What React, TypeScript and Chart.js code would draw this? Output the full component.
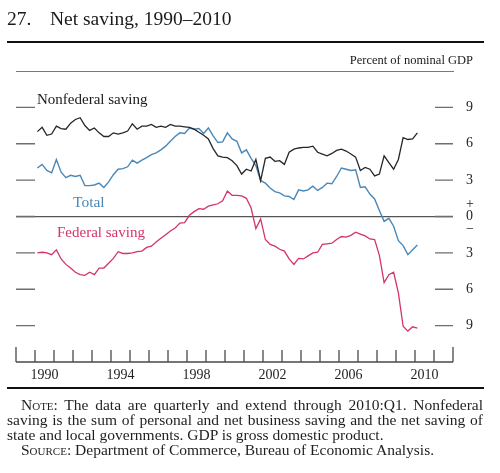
import React, { useEffect, useRef } from "react";
import { Chart, registerables } from "chart.js";

Chart.register(...registerables);

// ---- Data (percent of nominal GDP), quarterly 1990:Q1 – 2010:Q1 ----
const firstYear = 1990;
const nonfederalSaving = [
  7.0, 7.35, 6.7, 6.8, 7.45, 7.25, 7.2, 7.7, 8.0, 8.15,
  7.5, 7.1, 7.3, 6.9, 6.6, 6.6, 6.9, 6.8, 6.9, 7.05,
  7.65, 7.2, 7.45, 7.45, 7.6, 7.35, 7.45, 7.35, 7.6, 7.45,
  7.45, 7.4, 7.35, 7.2, 6.95, 6.7, 6.4, 5.6, 5.0, 4.9,
  4.85, 4.6, 4.2, 3.5, 3.9, 3.75, 4.7, 2.95, 4.8, 4.9,
  4.55, 4.6, 4.3, 5.3, 5.55, 5.65, 5.7, 5.7, 5.8, 5.3,
  5.15, 5.0, 5.2, 5.45, 5.55, 5.4, 5.15, 4.9, 3.8, 4.05,
  3.9, 3.35, 3.5, 5.0, 4.45, 3.9, 4.7, 6.5, 6.35, 6.4,
  6.9,
];
const federalSaving = [
  -3.0, -2.95, -3.0, -3.15, -2.75, -3.5, -3.95, -4.25, -4.6, -4.8,
  -4.85, -4.6, -4.8, -4.25, -4.25, -3.85, -3.45, -2.9, -3.05, -3.05,
  -3.0, -2.9, -2.85, -2.55, -2.45, -2.1, -1.8, -1.5, -1.2, -0.95,
  -0.55, -0.5, 0.1, 0.4, 0.65, 0.6, 0.85, 0.95, 1.05, 1.3,
  2.1, 1.75, 1.75, 1.7, 1.5, 0.7, -1.0, -0.2, -1.9, -2.3,
  -2.45, -2.7, -2.85, -3.5, -3.95, -3.45, -3.5, -3.25, -3.0, -2.95,
  -2.3, -2.25, -2.2, -1.9, -1.65, -1.7, -1.55, -1.3, -1.45, -1.6,
  -1.85, -1.9, -3.2, -5.45, -4.8, -4.6, -6.3, -9.05, -9.45, -9.1,
  -9.2,
];
const totalSaving = [
  4.0, 4.3, 3.8, 3.6, 4.7, 3.65, 3.2, 3.4, 3.3, 3.4,
  2.55, 2.55, 2.6, 2.75, 2.4, 2.85, 3.45, 3.9, 3.95, 4.1,
  4.65, 4.4, 4.65, 4.85, 5.1, 5.25, 5.5, 5.8, 6.2, 6.6,
  6.9, 6.85, 7.3, 7.2, 7.25, 6.85, 7.3, 6.65, 6.1, 6.15,
  6.9, 6.4, 6.2, 5.25, 5.5, 4.8, 4.2, 2.95, 2.75, 2.35,
  2.05, 1.95, 1.7, 1.65, 1.4, 2.2, 2.1, 2.2, 2.5, 2.15,
  2.4, 2.75, 2.7, 3.3, 4.0, 3.9, 3.8, 3.85, 2.4, 2.45,
  1.85, 1.45, 0.5, -0.4, -0.15, -0.8, -2.0, -2.4, -3.15, -2.75,
  -2.35,
];

const xMin = 1989;
const xMax = 2012;
const labelYears = [1990, 1994, 1998, 2002, 2006, 2010];
const yTickValues = [-9, -6, -3, 0, 3, 6, 9];
const yMin = -12;
const yMax = 12;

const SERIF = '"Liberation Serif", "Times New Roman", serif';
const BLACK = "#262626";
const BLUE = "#4a88b8";
const RED = "#d2346b";

const toPoints = (arr: number[]) =>
  arr.map((v, i) => ({ x: firstYear + i / 4 + 0.125, y: v }));

const axisDecor = {
  id: "axisDecor",
  afterDatasetsDraw(chart: any) {
    const { ctx, chartArea } = chart;
    const { left, right, top, bottom } = chartArea;
    const xs = chart.scales.x;
    const ys = chart.scales.y;
    ctx.save();
    // top thin rule
    ctx.strokeStyle = "#7a7a7a";
    ctx.lineWidth = 1;
    ctx.beginPath();
    ctx.moveTo(left, top + 0.5);
    ctx.lineTo(right + 1, top + 0.5);
    ctx.stroke();
    // inner dashes on y
    ctx.strokeStyle = "#6e6e6e";
    ctx.lineWidth = 1.3;
    ys.ticks.forEach((t: any) => {
      const py = ys.getPixelForValue(t.value);
      ctx.beginPath();
      ctx.moveTo(left, py);
      ctx.lineTo(left + 19, py);
      ctx.moveTo(right - 18, py);
      ctx.lineTo(right, py);
      ctx.stroke();
    });
    // bottom axis line & inward ticks
    ctx.strokeStyle = "#4a4a4a";
    ctx.lineWidth = 1.3;
    ctx.beginPath();
    ctx.moveTo(left, bottom);
    ctx.lineTo(right, bottom);
    xs.ticks.forEach((t: any) => {
      const px = xs.getPixelForValue(t.value);
      const len = t.value === xMin || t.value === xMax ? 15 : 12;
      ctx.moveTo(px, bottom);
      ctx.lineTo(px, bottom - len);
    });
    ctx.stroke();
    ctx.restore();
  },
};

function Txt(props: {
  x?: number;
  right?: number;
  baseline: number;
  size: number;
  color?: string;
  children: React.ReactNode;
}) {
  const { x, right, baseline, size, color, children } = props;
  const style: React.CSSProperties = {
    position: "absolute",
    top: baseline - 0.8375 * size,
    fontFamily: SERIF,
    fontSize: size,
    lineHeight: size + "px",
    color: color || "#1a1a1a",
    whiteSpace: "nowrap",
  };
  if (x !== undefined) style.left = x;
  if (right !== undefined) style.right = right;
  return <div style={style}>{children}</div>;
}

function NoteLine(props: {
  x: number;
  baseline: number;
  justify?: boolean;
  children: React.ReactNode;
}) {
  const size = 15.5;
  return (
    <div
      style={{
        position: "absolute",
        left: props.x,
        width: 483 - props.x,
        top: props.baseline - 0.8375 * size,
        fontFamily: SERIF,
        fontSize: size,
        lineHeight: size + "px",
        color: "#1f1f1f",
        whiteSpace: "nowrap",
        textAlign: props.justify ? "justify" : "left",
        textAlignLast: props.justify ? "justify" : "left",
      }}
    >
      {props.children}
    </div>
  );
}

export default function App() {
  const canvasRef = useRef<HTMLCanvasElement | null>(null);

  useEffect(() => {
    const canvas = canvasRef.current;
    if (!canvas) return;
    const chart = new Chart(canvas, {
      type: "line",
      data: {
        datasets: [
          {
            label: "Nonfederal saving",
            data: toPoints(nonfederalSaving),
            borderColor: BLACK,
            borderWidth: 1.3,
            pointRadius: 0,
            tension: 0,
          },
          {
            label: "Total",
            data: toPoints(totalSaving),
            borderColor: BLUE,
            borderWidth: 1.4,
            pointRadius: 0,
            tension: 0,
          },
          {
            label: "Federal saving",
            data: toPoints(federalSaving),
            borderColor: RED,
            borderWidth: 1.3,
            pointRadius: 0,
            tension: 0,
          },
        ],
      },
      options: {
        animation: false,
        responsive: false,
        events: [],
        layout: { padding: { left: 16, top: 71, right: 0, bottom: 0 } },
        plugins: { legend: { display: false }, tooltip: { enabled: false } },
        scales: {
          x: {
            type: "linear",
            position: "bottom",
            min: xMin,
            max: xMax,
            afterBuildTicks: (scale: any) => {
              const t = [];
              for (let v = xMin; v <= xMax; v++) t.push({ value: v });
              scale.ticks = t;
            },
            afterFit: (scale: any) => {
              scale.height = 111;
            },
            grid: { display: false, drawTicks: false },
            border: { display: false },
            ticks: {
              autoSkip: false,
              maxRotation: 0,
              padding: 5,
              labelOffset: 9.5,
              color: "#1f1f1f",
              font: { family: SERIF, size: 14 },
              callback: (v: any) => (labelYears.includes(Number(v)) ? String(v) : ""),
            },
          },
          y: {
            type: "linear",
            position: "right",
            min: yMin,
            max: yMax,
            afterBuildTicks: (scale: any) => {
              scale.ticks = yTickValues.map((v) => ({ value: v }));
            },
            afterFit: (scale: any) => {
              scale.width = 47;
            },
            grid: {
              drawTicks: false,
              lineWidth: 1.3,
              color: (c: any) => (c.tick && c.tick.value === 0 ? "#555555" : "rgba(0,0,0,0)"),
            },
            border: { display: false },
            ticks: {
              padding: 13,
              color: "#1f1f1f",
              font: { family: SERIF, size: 14, lineHeight: 0.9 },
              callback: (v: any) => (Number(v) === 0 ? ["+", "0", "\u2212"] : String(Math.abs(Number(v)))),
            },
          },
        },
      },
      plugins: [axisDecor],
    } as any);
    return () => chart.destroy();
  }, []);

  return (
    <div
      style={{
        position: "fixed",
        left: 0,
        top: 0,
        width: 500,
        height: 473,
        background: "#fff",
        overflow: "hidden",
      }}
    >
      <canvas
        ref={canvasRef}
        width={500}
        height={473}
        style={{ position: "absolute", left: 0, top: 0, width: 500, height: 473 }}
      />
      <Txt x={7} baseline={25} size={19.5}>27.</Txt>
      <Txt x={50} baseline={25} size={19.5}>Net saving, 1990–2010</Txt>
      <div style={{ position: "absolute", left: 7, top: 41, width: 477, height: 2, background: "#111" }} />
      <Txt right={27} baseline={64} size={12.5}>Percent of nominal GDP</Txt>

      <Txt x={37} baseline={105} size={15} color="#1a1a1a">Nonfederal saving</Txt>
      <Txt x={73} baseline={207} size={15.5} color={BLUE}>Total</Txt>
      <Txt x={57} baseline={238} size={15} color={RED}>Federal saving</Txt>

      <div style={{ position: "absolute", left: 7, top: 387, width: 477, height: 2, background: "#111" }} />
      <NoteLine x={21} baseline={409.5} justify>
        <span style={{ fontVariant: "small-caps" }}>Note:</span> The data are quarterly and extend through 2010:Q1. Nonfederal
      </NoteLine>
      <NoteLine x={7} baseline={424.5} justify>
        saving is the sum of personal and net business saving and the net saving of
      </NoteLine>
      <NoteLine x={7} baseline={439.5}>
        state and local governments. GDP is gross domestic product.
      </NoteLine>
      <NoteLine x={21} baseline={454.5}>
        <span style={{ fontVariant: "small-caps" }}>Source:</span> Department of Commerce, Bureau of Economic Analysis.
      </NoteLine>
    </div>
  );
}
